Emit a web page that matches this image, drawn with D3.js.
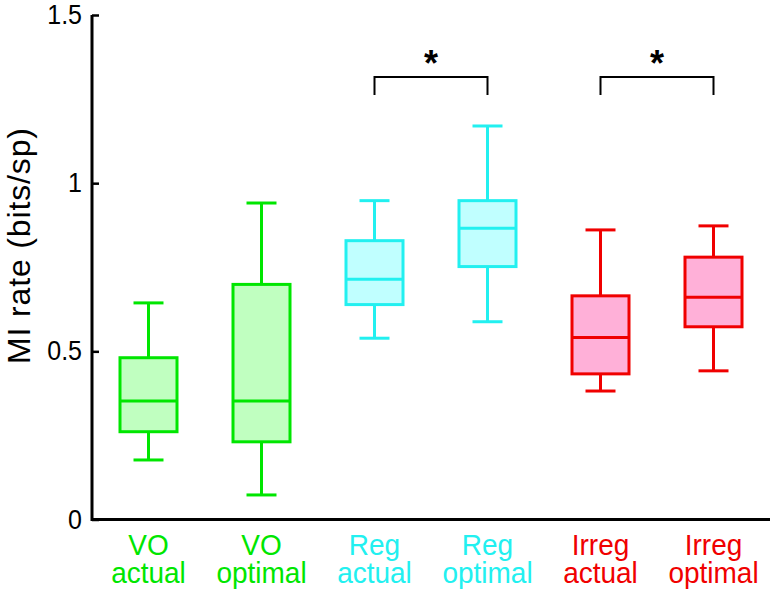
<!DOCTYPE html>
<meta charset="utf-8">
<html>
<head>
  <script src="https://d3js.org/d3.v7.min.js" charset="utf-8"></script>
</head>
<style>
* { font-family: "Liberation Sans", Arial, sans-serif; }
body { margin: 0; background: white; }
</style>
<body>
<div id="container"></div>
<script type="text/javascript">

// data
var groups  = ["VO actual", "VO optimal", "Reg actual", "Reg optimal", "Irreg actual", "Irreg optimal"]
var lower   = [0.177, 0.073, 0.539, 0.588, 0.382, 0.442]
var q1      = [0.261, 0.231, 0.639, 0.752, 0.433, 0.573]
var median  = [0.352, 0.352, 0.714, 0.866, 0.541, 0.661]
var q3      = [0.481, 0.699, 0.829, 0.948, 0.665, 0.780]
var upper   = [0.644, 0.941, 0.948, 1.170, 0.861, 0.873]
var kinds   = ["VO", "VO", "Reg", "Reg", "Irreg", "Irreg"]
var yTicks  = [0, 0.5, 1, 1.5]
var yTickLabels = ["0", "0.5", "1", "1.5"]
// significance brackets: pairs of group indexes
var sigPairs = [[2, 3], [4, 5]]
var bracketTop = 1.316, bracketLeg = 1.262

var stroke = {VO: "#00e600", Reg: "#22f0f0", Irreg: "#f00000"}
var fill   = {VO: "#c0ffc0", Reg: "#c0ffff", Irreg: "#ffb0d8"}

var width = 772, height = 592
var margin = {left: 92, right: 2, top: 15, bottom: 72}

var svg = d3.select("#container").append("svg")
            .attr("width", width).attr("height", height)

var x = d3.scaleBand().domain(groups)
          .range([margin.left, width - margin.right])
var y = d3.scaleLinear().domain([0, 1.5])
          .range([height - margin.bottom - 0.5, margin.top])

var boxW = 57, capW = 30
var cx = (i) => x(groups[i]) + x.bandwidth() / 2

// y axis with inward ticks
var yAxis = svg.append("g")
   .attr("transform", "translate(" + margin.left + ",0)")
   .call(d3.axisLeft(y).tickValues(yTicks).tickSize(-7).tickPadding(10)
           .tickFormat((d, i) => yTickLabels[i]))
yAxis.select(".domain").remove()
yAxis.selectAll(".tick line").attr("stroke", "black").attr("stroke-width", 2.5)
yAxis.selectAll(".tick text").attr("font-size", "25px").attr("fill", "black")
     .attr("font-family", "Liberation Sans, Arial, sans-serif")
     .attr("transform", "scale(1,1.08)")

svg.append("path")
   .attr("d", "M" + margin.left + "," + y(1.5) + "V" + y(0) + "H" + (width - margin.right))
   .attr("fill", "none").attr("stroke", "black").attr("stroke-width", 3)

svg.append("text")
   .attr("transform", "translate(29.5," + 246 + ") rotate(-90)")
   .attr("text-anchor", "middle")
   .attr("font-size", "32px")
   .attr("textLength", 236)
   .text("MI rate (bits/sp)")

// boxes
var idx = d3.range(groups.length)
var g = svg.selectAll(".box").data(idx).enter().append("g").attr("class", "box")

g.append("line")
 .attr("x1", cx).attr("x2", cx)
 .attr("y1", (i) => y(upper[i])).attr("y2", (i) => y(q3[i]))
g.append("line")
 .attr("x1", cx).attr("x2", cx)
 .attr("y1", (i) => y(q1[i])).attr("y2", (i) => y(lower[i]))
g.append("line")
 .attr("x1", (i) => cx(i) - capW / 2).attr("x2", (i) => cx(i) + capW / 2)
 .attr("y1", (i) => y(upper[i])).attr("y2", (i) => y(upper[i]))
g.append("line")
 .attr("x1", (i) => cx(i) - capW / 2).attr("x2", (i) => cx(i) + capW / 2)
 .attr("y1", (i) => y(lower[i])).attr("y2", (i) => y(lower[i]))
g.append("rect")
 .attr("x", (i) => cx(i) - boxW / 2).attr("width", boxW)
 .attr("y", (i) => y(q3[i])).attr("height", (i) => y(q1[i]) - y(q3[i]))
 .attr("fill", (i) => fill[kinds[i]])
g.append("line")
 .attr("x1", (i) => cx(i) - boxW / 2).attr("x2", (i) => cx(i) + boxW / 2)
 .attr("y1", (i) => y(median[i])).attr("y2", (i) => y(median[i]))
g.selectAll("line, rect")
 .attr("stroke", function() { return stroke[kinds[d3.select(this.parentNode).datum()]] })
 .attr("stroke-width", 3)

// x labels, one text per line (slightly stretched vertically like the original)
var rows = [0, 1]
rows.forEach(function(r) {
  svg.selectAll(".xlab" + r).data(idx).enter().append("text")
     .attr("class", "xlab" + r)
     .attr("transform", (i) => "translate(" + cx(i) + "," + (555 + r * 28) + ") scale(1,1.08)")
     .attr("text-anchor", "middle")
     .attr("font-size", "28px")
     .attr("fill", (i) => stroke[kinds[i]])
     .text((i) => groups[i].split(" ")[r])
})

// significance
sigPairs.forEach(function(p) {
  var a = cx(p[0]), b = cx(p[1])
  svg.append("path")
     .attr("d", "M" + a + "," + y(bracketLeg) + "V" + y(bracketTop) + "H" + b + "V" + y(bracketLeg))
     .attr("fill", "none").attr("stroke", "black").attr("stroke-width", 2)
  svg.append("text")
     .attr("x", (a + b) / 2).attr("y", 76)
     .attr("text-anchor", "middle")
     .attr("font-size", "36px").attr("font-weight", "bold")
     .text("*")
})

</script>
</body>
</html>
